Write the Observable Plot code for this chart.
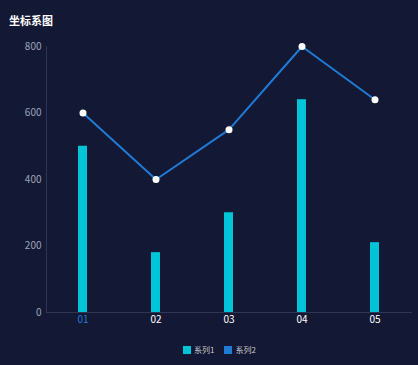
<!DOCTYPE html>
<html><head><meta charset="utf-8">
<script src="https://cdn.jsdelivr.net/npm/d3@7"></script>
<script src="https://cdn.jsdelivr.net/npm/@observablehq/plot@0.6"></script>
<style>
html,body{margin:0;padding:0;background:#131834;}
#wrap{position:relative;width:418px;height:365px;background:#131834;font-family:"Noto Sans CJK SC","Noto Sans",sans-serif;overflow:hidden;}
#title{position:absolute;left:9px;top:12px;color:#ffffff;font-size:11px;font-weight:bold;}
#legend{position:absolute;top:344px;left:183px;display:flex;gap:10px;font-size:8px;line-height:12px;color:#c8c8d0;}
#legend span.item{display:flex;align-items:center;gap:3px;}
#legend span.sw{display:inline-block;width:8px;height:8px;}
</style></head>
<body><div id="wrap"><div id="title">坐标系图</div><div id="chart"></div><div id="legend"></div></div>
<script>
const categories = ["01","02","03","04","05"];
const series1 = [500,180,300,640,210];
const series2 = [600,400,550,800,640];
const seriesNames = ["系列1","系列2"];
const yTicks = [0,200,400,600,800];
const colors = ["#00c4d8","#1f7bd6"];

const rows = categories.map((c,i)=>({cat:c, s1:series1[i], s2:series2[i]}));

const chart = Plot.plot({
  width:418, height:365,
  marginTop:46, marginBottom:53, marginLeft:46, marginRight:7,
  style:{background:"transparent", fontFamily:"'Noto Sans CJK SC','Noto Sans',sans-serif"},
  x:{type:"band", domain:categories, padding:0, axis:null},
  y:{domain:[0,800], axis:null},
  marks:[
    Plot.frame({anchor:"left", stroke:"#2e3655"}),
    Plot.frame({anchor:"bottom", stroke:"#2e3655"}),
    Plot.axisY(yTicks,{tickSize:0, tickPadding:5, fill:"#9ea4ba", fontSize:10}),
    Plot.barY(rows,{x:"cat", y:"s1", fill:colors[0], insetLeft:32, insetRight:32}),
    Plot.lineY(rows,{x:"cat", y:"s2", stroke:colors[1], strokeWidth:2}),
    Plot.dot(rows,{x:"cat", y:"s2", fill:"#ffffff", r:3.5}),
    Plot.text(rows,{x:"cat", frameAnchor:"bottom", dy:10, text:"cat", fontSize:10, fill:(d,i)=> i===0 ? colors[1] : "#ffffff"})
  ]
});
document.getElementById("chart").appendChild(chart);

const lg = document.getElementById("legend");
seriesNames.forEach((n,i)=>{
  const it=document.createElement("span"); it.className="item";
  const sw=document.createElement("span"); sw.className="sw"; sw.style.background=colors[i];
  const t=document.createElement("span"); t.textContent=n;
  it.appendChild(sw); it.appendChild(t); lg.appendChild(it);
});
</script></body></html>
